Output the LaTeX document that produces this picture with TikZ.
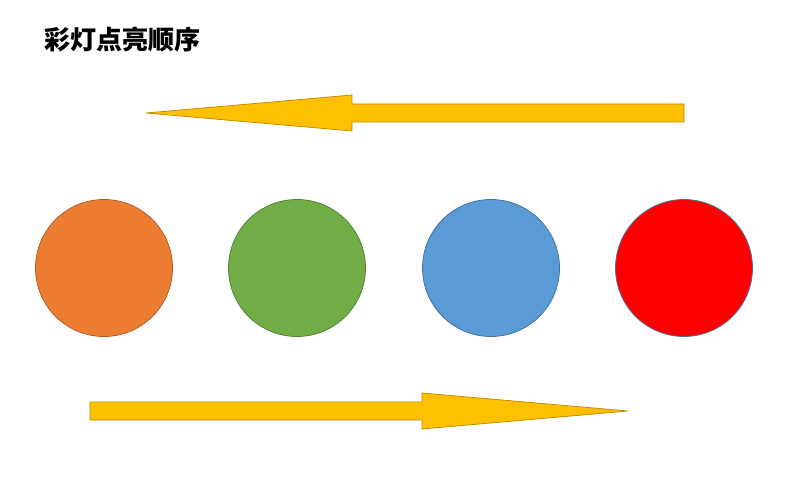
\documentclass[tikz,border=0pt]{standalone}
\usepackage{fontspec}
\newfontfamily\cjk{Noto Sans CJK SC}
\definecolor{arrowfill}{HTML}{FFC000}
\definecolor{arrowline}{HTML}{BC8C00}
\definecolor{orangefill}{HTML}{ED7D31}
\definecolor{orangeline}{HTML}{AE5A21}
\definecolor{greenfill}{HTML}{70AD47}
\definecolor{greenline}{HTML}{507E32}
\definecolor{bluefill}{HTML}{5B9BD5}
\definecolor{blueline}{HTML}{41719C}
\definecolor{redfill}{HTML}{FF0000}
\tikzset{
  lamp/.style={circle, minimum size=137pt, inner sep=0pt, line width=0.75pt},
  bigarrow/.style={fill=arrowfill, draw=arrowline, line width=0.75pt, line join=miter},
}
\begin{document}
\begin{tikzpicture}[x=1pt,y=-1pt]
\useasboundingbox (0,0) rectangle (810,481);
\node[anchor=west, inner sep=0pt, font=\cjk\bfseries\fontsize{26}{30}\selectfont] (title) at (44,40) {彩灯点亮顺序};
% top arrow pointing left
\path[bigarrow] (146,113) -- (352,95) -- (352,104) -- (684,104) -- (684,122) -- (352,122) -- (352,131) -- cycle;
% lamps
\node[lamp, fill=orangefill, draw=orangeline] (l1) at (104,268) {};
\node[lamp, fill=greenfill, draw=greenline] (l2) at (297,268) {};
\node[lamp, fill=bluefill, draw=blueline] (l3) at (491,268) {};
\node[lamp, fill=redfill, draw=blueline] (l4) at (684,268) {};
% bottom arrow pointing right
\path[bigarrow] (628,411) -- (422,429) -- (422,420) -- (90,420) -- (90,402) -- (422,402) -- (422,393) -- cycle;
\end{tikzpicture}
\end{document}
